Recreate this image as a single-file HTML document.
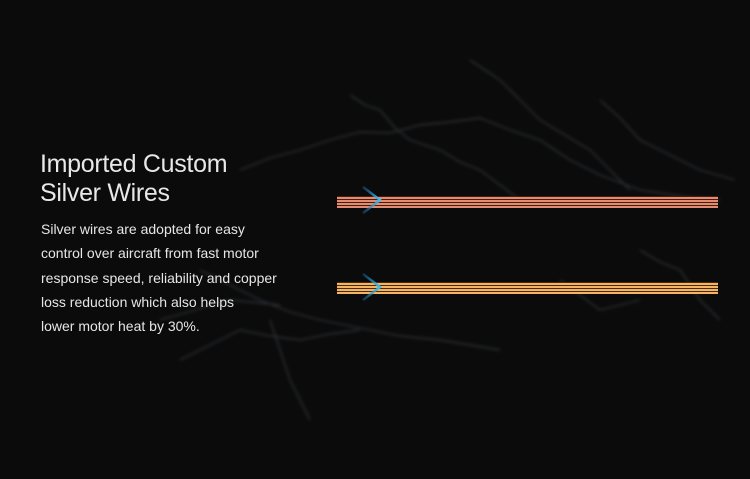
<!DOCTYPE html>
<html><head><meta charset="utf-8"><style>
html,body{margin:0;padding:0;background:#0b0b0b;}
#w{position:relative;width:750px;height:479px;overflow:hidden;background:#0b0b0b;font-family:"Liberation Sans",sans-serif;color:#e8e8e8;}
.t{position:absolute;left:40px;font-size:25px;font-weight:300;letter-spacing:-0.3px;line-height:29px;}
.b{position:absolute;left:41px;top:217px;font-size:14px;line-height:24.3px;color:#e6e6e6;}
.wire{position:absolute;left:337px;width:381px;height:12px;}
</style></head><body><div id="w">
<svg width="750" height="479" style="position:absolute;left:0;top:0">
<defs><filter id="bl"><feGaussianBlur stdDeviation="1.6"/></filter></defs>
<g stroke="#7f8a9a" fill="none" stroke-width="1.4" opacity="0.3" filter="url(#bl)">
<path d="M240 170 L270 158 L300 150 L330 140 L360 132 L390 133 L420 125 L450 122 L480 118 L510 130 L540 140 L570 160 L600 175 L640 190 L680 196 L720 200"/>
<path d="M350 95 L365 105 L380 110 L395 128 L410 140 L440 150 L460 162 L480 170 L520 200"/>
<path d="M470 60 L485 70 L500 80 L520 100 L540 120 L565 135 L590 150 L610 170 L630 190"/>
<path d="M600 100 L620 118 L640 140 L670 155 L700 170 L735 180"/>
<path d="M200 270 L230 285 L260 300 L290 312 L320 320 L360 328 L400 336 L440 340 L500 350"/>
<path d="M180 360 L210 345 L240 330 L270 336 L300 340 L330 334 L360 330"/>
<path d="M270 320 L280 350 L290 380 L300 400 L310 420"/>
<path d="M640 250 L660 262 L680 270 L690 285 L700 300 L720 320"/>
<path d="M560 280 L580 295 L600 310 L620 305 L640 300"/>
<path d="M160 320 L195 310 L230 300 L280 305"/>
</g>
</svg>
<div class="t" style="top:150px">Imported Custom</div>
<div class="t" style="top:179px">Silver Wires</div>
<div class="b">Silver wires are adopted for easy<br>control over aircraft from fast motor<br>response speed, reliability and copper<br>loss reduction which also helps<br>lower motor heat by 30%.</div>
<div class="wire" style="top:196px;background:repeating-linear-gradient(#4a1a10 0 1px,#e08d72 1px 3px)"></div>
<div class="wire" style="top:282px;background:repeating-linear-gradient(#4a2a08 0 1px,#f2b565 1px 3px)"></div>
<svg width="750" height="479" style="position:absolute;left:0;top:0">
<defs><linearGradient id="g" x1="0" y1="0" x2="1" y2="0"><stop offset="0" stop-color="#1b6fa8" stop-opacity="0.4"/><stop offset="1" stop-color="#3ec0f5"/></linearGradient></defs>
<polyline points="363,187 380,200 363,213" fill="none" stroke="url(#g)" stroke-width="2.4"/>
<polyline points="363,274 380,287 363,300" fill="none" stroke="url(#g)" stroke-width="2.4"/>
</svg>
</div></body></html>
